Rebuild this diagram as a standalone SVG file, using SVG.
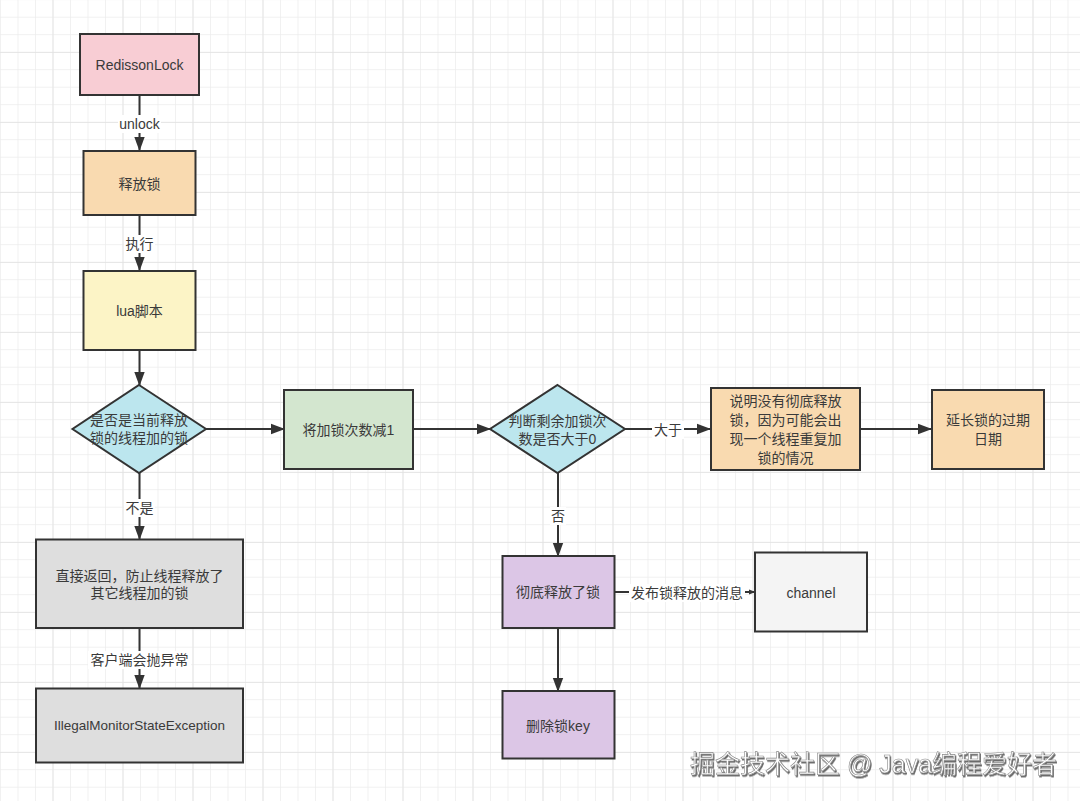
<svg xmlns="http://www.w3.org/2000/svg" width="1080" height="801" viewBox="0 0 1080 801">
<defs>
<pattern id="minor" x="0" y="-0.8" width="17.5" height="17.5" patternUnits="userSpaceOnUse">
<path d="M0 0H17.5M0 0V17.5" fill="none" stroke="#ececec" stroke-width="1.4"/>
</pattern>
<pattern id="major" x="52.5" y="52" width="70" height="70" patternUnits="userSpaceOnUse">
<path d="M0 0H70M0 0V70" fill="none" stroke="#e2e2e2" stroke-width="1.6"/>
</pattern>
<marker id="arr" markerUnits="userSpaceOnUse" markerWidth="14" markerHeight="12" viewBox="0 0 14 12" refX="13" refY="6" orient="auto">
<path d="M0 0.8 L14 6 L0 11.2 Z" fill="#333"/>
</marker>
<marker id="arrs" markerUnits="userSpaceOnUse" markerWidth="7" markerHeight="7" viewBox="0 0 7 7" refX="6.5" refY="3.5" orient="auto">
<path d="M0 0.8 L7 3.5 L0 6.2 Z" fill="#333"/>
</marker>
<filter id="wm" x="-5%" y="-20%" width="110%" height="150%">
<feDropShadow dx="1" dy="1.5" stdDeviation="0.6" flood-color="#555" flood-opacity="0.9"/>
</filter>
</defs>
<style>
.box{stroke:#333;stroke-width:2}
.t{font-family:"Liberation Sans","Noto Sans CJK SC",sans-serif;font-size:14px;fill:#3a3a3a;text-anchor:middle;dominant-baseline:central}
.c{fill:none;stroke:#333;stroke-width:2}
.lb{fill:#fff}
.wm{font-family:"Liberation Sans","Noto Sans CJK SC",sans-serif;font-size:25px;fill:#fff;stroke:#888;stroke-width:0.6;filter:url(#wm)}
</style>
<rect width="1080" height="801" fill="#fff"/>
<rect width="1080" height="801" fill="url(#minor)"/>
<rect width="1080" height="801" fill="url(#major)"/>

<g id="connectors">
<path class="c" d="M139.5 95V150" marker-end="url(#arr)"/>
<path class="c" d="M139.5 215V270" marker-end="url(#arr)"/>
<path class="c" d="M139.5 350V385" marker-end="url(#arr)"/>
<path class="c" d="M206 429H284" marker-end="url(#arr)"/>
<path class="c" d="M413 429H490" marker-end="url(#arr)"/>
<path class="c" d="M625 429H710" marker-end="url(#arr)"/>
<path class="c" d="M861 429H931" marker-end="url(#arr)"/>
<path class="c" d="M139.5 473V539" marker-end="url(#arr)"/>
<path class="c" d="M139.5 628V688" marker-end="url(#arr)"/>
<path class="c" d="M558 473V556" marker-end="url(#arr)"/>
<path class="c" d="M614 592H755" marker-end="url(#arrs)"/>
<path class="c" d="M558 628V691" marker-end="url(#arr)"/>
<rect class="lb" x="118" y="115" width="43" height="18"/>
<text class="t" x="139.5" y="124">unlock</text>
<rect class="lb" x="124" y="235" width="31" height="18"/>
<text class="t" x="139.5" y="244">执行</text>
<rect class="lb" x="124" y="499" width="31" height="18"/>
<text class="t" x="139.5" y="508">不是</text>
<rect class="lb" x="88" y="651" width="103" height="18"/>
<text class="t" x="139.5" y="660">客户端会抛异常</text>
<rect class="lb" x="550" y="507" width="16" height="18"/>
<text class="t" x="558" y="516">否</text>
<rect class="lb" x="652" y="421" width="32" height="18"/>
<text class="t" x="668" y="430">大于</text>
<rect class="lb" x="629" y="584" width="116" height="18"/>
<text class="t" x="687" y="593">发布锁释放的消息</text>
</g>

<g id="n-redisson">
<rect class="box" x="80" y="34" width="119" height="61" fill="#f8cdd4"/>
<text class="t" x="139.5" y="65">RedissonLock</text>
</g>
<g id="n-release">
<rect class="box" x="83.5" y="151" width="112" height="64" fill="#f9dab0"/>
<text class="t" x="139.5" y="184">释放锁</text>
</g>
<g id="n-lua">
<rect class="box" x="83.5" y="271" width="112" height="79" fill="#fcf4c6"/>
<text class="t" x="139.5" y="311">lua脚本</text>
</g>
<g id="n-check-thread">
<path class="box" d="M139 385L206 429L139 473L72.5 429Z" fill="#bce6ee"/>
<text class="t" x="139" y="420">是否是当前释放</text>
<text class="t" x="139" y="438">锁的线程加的锁</text>
</g>
<g id="n-decrement">
<rect class="box" x="284" y="390" width="129" height="79" fill="#d3e6cf"/>
<text class="t" x="348.5" y="430">将加锁次数减1</text>
</g>
<g id="n-check-count">
<path class="box" d="M557.5 385L625 429L557.5 473L490 429Z" fill="#bce6ee"/>
<text class="t" x="557.5" y="421">判断剩余加锁次</text>
<text class="t" x="557.5" y="439">数是否大于0</text>
</g>
<g id="n-not-fully">
<rect class="box" x="711" y="388" width="149" height="82" fill="#f9dab0"/>
<text class="t" x="785.5" y="401">说明没有彻底释放</text>
<text class="t" x="785.5" y="420">锁，因为可能会出</text>
<text class="t" x="785.5" y="439">现一个线程重复加</text>
<text class="t" x="785.5" y="458">锁的情况</text>
</g>
<g id="n-extend">
<rect class="box" x="932" y="390" width="112" height="79" fill="#f9dab0"/>
<text class="t" x="988" y="420">延长锁的过期</text>
<text class="t" x="988" y="439">日期</text>
</g>
<g id="n-return">
<rect class="box" x="36" y="539.5" width="207" height="88.5" fill="#dedede"/>
<text class="t" x="139.5" y="576">直接返回，防止线程释放了</text>
<text class="t" x="139.5" y="593">其它线程加的锁</text>
</g>
<g id="n-exception">
<rect class="box" x="36" y="688.5" width="207" height="74" fill="#dedede"/>
<text class="t" x="139.5" y="725" style="font-size:13.5px">IllegalMonitorStateException</text>
</g>
<g id="n-fully">
<rect class="box" x="502.5" y="556" width="112" height="72" fill="#dcc6e6"/>
<text class="t" x="558" y="592">彻底释放了锁</text>
</g>
<g id="n-channel">
<rect class="box" x="755" y="552.5" width="112" height="79" fill="#f4f4f4"/>
<text class="t" x="811" y="593">channel</text>
</g>
<g id="n-delete">
<rect class="box" x="502.5" y="691" width="112" height="67.5" fill="#dcc6e6"/>
<text class="t" x="558" y="726">删除锁key</text>
</g>
<text class="wm" x="690" y="773">掘金技术社区 @ Java编程爱好者</text>
</svg>
